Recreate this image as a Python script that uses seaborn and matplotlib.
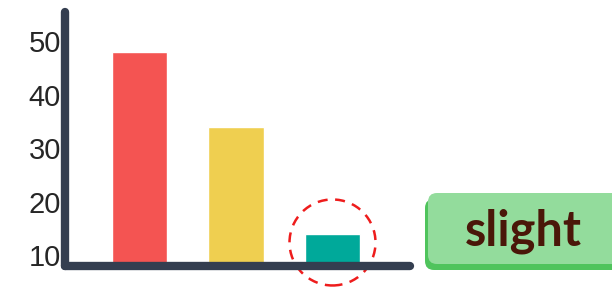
import matplotlib
matplotlib.use("Agg")
import matplotlib.pyplot as plt
from matplotlib.patches import Circle, FancyBboxPatch
from matplotlib.transforms import ScaledTranslation
import pandas as pd
import seaborn as sns

# --- data ---
categories = ["A", "B", "C"]
values = [48, 34, 14]
bar_colors = ["#f45452", "#efcf50", "#00a99a"]
y_ticks = [10, 20, 30, 40, 50]
tag_text = "slight"

axis_color = "#343e50"

sns.set_style("white")
plt.rcParams["font.family"] = ["Liberation Sans", "DejaVu Sans"]

df = pd.DataFrame({"category": categories, "value": values})

fig = plt.figure(figsize=(6.12, 2.89), dpi=100)
ax = fig.add_axes([65 / 612, 1 - 266 / 289, (410 - 65) / 612, (266 - 12) / 289])

sns.barplot(data=df, x="category", y="value", hue="category",
            palette=bar_colors, width=0.58, legend=False, saturation=1, ax=ax)

ax.set_xlim(-0.772, 2.803)
ax.set_ylim(8.0, 55.5)
ax.set_yticks(y_ticks)
ax.set_xticks([])
ax.set_xlabel("")
ax.set_ylabel("")
ax.tick_params(axis="y", length=0, pad=3, labelsize=21, labelcolor="#262626")

# thick dark axis lines
for side in ["top", "right"]:
    ax.spines[side].set_visible(False)
for side in ["left", "bottom"]:
    ax.spines[side].set_color(axis_color)
    ax.spines[side].set_linewidth(6)
    ax.spines[side].set_capstyle("round")
    ax.spines[side].set_zorder(5)

# dashed highlight circle round the smallest bar
highlight = Circle((0, 0), radius=0.43, fill=False, edgecolor="#ee1c1c",
                   linewidth=1.8, linestyle=(0, (4, 3)), clip_on=False,
                   transform=fig.dpi_scale_trans + ScaledTranslation(2, 12.4, ax.transData))
ax.add_artist(highlight)

# green tag with a darker shadow
shadow = FancyBboxPatch((4.25, 0.19), 2.2, 0.71, boxstyle="round,pad=0,rounding_size=0.09",
                        facecolor="#4fc45c", edgecolor="none",
                        transform=fig.dpi_scale_trans)
tag = FancyBboxPatch((4.28, 0.25), 2.2, 0.71, boxstyle="round,pad=0,rounding_size=0.09",
                     facecolor="#93dc9c", edgecolor="none",
                     transform=fig.dpi_scale_trans)
fig.add_artist(shadow)
fig.add_artist(tag)
fig.text(5.235, 0.58, tag_text, transform=fig.dpi_scale_trans, ha="center", va="center",
         fontsize=35, fontweight="bold", color="#4a1709", family=["Lato", "DejaVu Sans"])

fig.savefig("out.png", dpi=100)
